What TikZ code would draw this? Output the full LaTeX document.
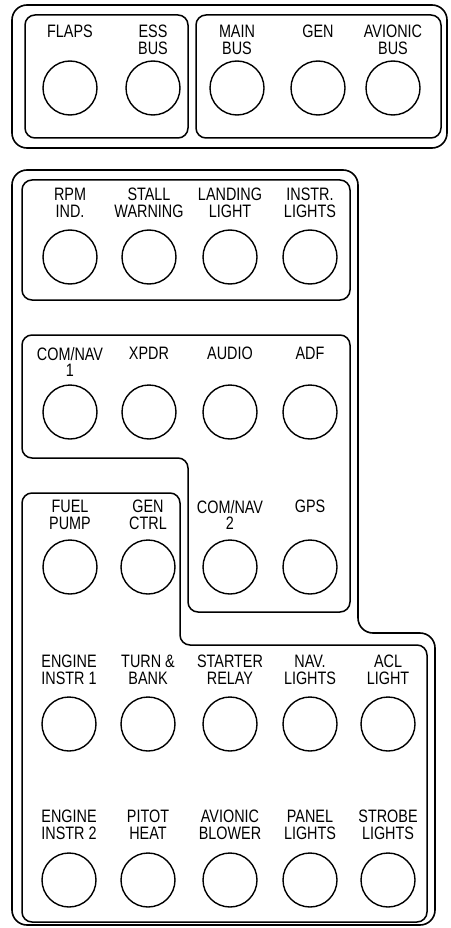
\documentclass[tikz,border=0pt]{standalone}
\usepackage{fontspec}
\setmainfont{Liberation Sans}[FakeStretch=0.8]

\tikzset{
  panel/.style={line width=1.6pt, rounded corners=15pt},
  group/.style={line width=1.5pt, rounded corners=10pt},
  lamp/.style={circle, draw, line width=1.4pt, minimum size=54pt, inner sep=0pt},
  tag/.style={anchor=north, align=center, inner sep=0pt,
    font=\fontsize{18}{16.5}\selectfont}
}

\begin{document}
\begin{tikzpicture}[x=1pt, y=-1pt]

  \useasboundingbox (0,0) rectangle (450,928);

  % Top panel
  \draw[panel] (12,5) rectangle (447,148);
  \draw[group] (25,15) rectangle (188,138);
  \draw[group] (196,15) rectangle (441,138);

  % Lower panel
  \draw[panel] (12,170) -- (358,170) -- (358,633) -- (435,633)
    -- (435,925) -- (12,925) -- cycle;
  \draw[group] (22,180) rectangle (350,300);
  \draw[group] (22,335) -- (350,335) -- (350,612) -- (188,612)
    -- (188,458) -- (22,458) -- cycle;
  \draw[group] (22,493) -- (180,493) -- (180,645) -- (427,645)
    -- (427,922) -- (22,922) -- cycle;

  % Top row
  \foreach \x/\txt/\nm in {70/FLAPS/flaps, 153/{ESS\\BUS}/ess,
      237/{MAIN\\BUS}/mainbus, 318/GEN/gen, 393/{AVIONIC\\BUS}/avbus} {
    \node[tag] (t-\nm) at (\x,25) {\txt};
    \node[lamp] (cb-\nm) at (\x,88) {};
  }

  % Row 1
  \foreach \x/\txt/\nm in {70/{RPM\\IND.}/rpm, 149/{STALL\\WARNING}/stall,
      230/{LANDING\\LIGHT}/landing, 310/{INSTR.\\LIGHTS}/instr} {
    \node[tag] (t-\nm) at (\x,188) {\txt};
    \node[lamp] (cb-\nm) at (\x,257) {};
  }

  % Row 2
  \foreach \x/\txt/\nm in {70/{COM/NAV\\1}/comnav1, 149/XPDR/xpdr,
      230/AUDIO/audio, 310/ADF/adf} {
    \node[tag] (t-\nm) at (\x,347) {\txt};
    \node[lamp] (cb-\nm) at (\x,412) {};
  }

  % Row 3
  \foreach \x/\txt/\nm in {70/{FUEL\\PUMP}/fuel, 148/{GEN\\CTRL}/genctrl,
      230/{COM/NAV\\2}/comnav2, 310/GPS/gps} {
    \node[tag] (t-\nm) at (\x,500) {\txt};
    \node[lamp] (cb-\nm) at (\x,567) {};
  }

  % Row 4
  \foreach \x/\txt/\nm in {69/{ENGINE\\INSTR 1}/eng1, 148/{TURN \&\\BANK}/turn,
      230/{STARTER\\RELAY}/starter, 310/{NAV.\\LIGHTS}/nav,
      388/{ACL\\LIGHT}/acl} {
    \node[tag] (t-\nm) at (\x,655) {\txt};
    \node[lamp] (cb-\nm) at (\x,724) {};
  }

  % Row 5
  \foreach \x/\txt/\nm in {69/{ENGINE\\INSTR 2}/eng2, 148/{PITOT\\HEAT}/pitot,
      230/{AVIONIC\\BLOWER}/blower, 310/{PANEL\\LIGHTS}/panel,
      388/{STROBE\\LIGHTS}/strobe} {
    \node[tag] (t-\nm) at (\x,810) {\txt};
    \node[lamp] (cb-\nm) at (\x,880) {};
  }

\end{tikzpicture}
\end{document}
